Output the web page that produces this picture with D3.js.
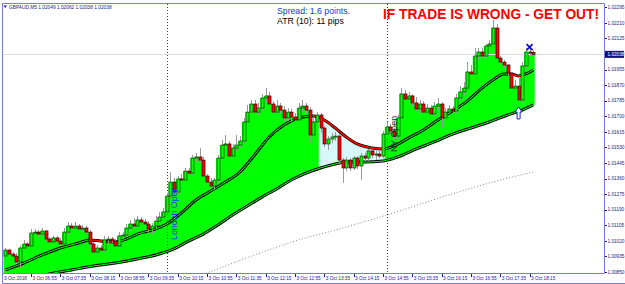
<!DOCTYPE html>
<html>
<head>
<meta charset="utf-8">
<script src="https://cdn.jsdelivr.net/npm/d3@7"></script>
<style>
  body { margin: 0; background: #fff; }
  svg { display: block; }
</style>
</head>
<body>
<div id="chart"></div>
<script>
// GBPAUD M5, 3 Oct 2018, first bar 06:20
const symbol = 'GBPAUD,M5';
const barStart = new Date(2018, 9, 3, 6, 20);

const opens = [
  1.00937, 1.00970, 1.00948, 1.00937, 1.00905, 1.00981, 1.01003, 1.00992, 1.01063, 1.01068,
  1.01057, 1.01074, 1.01030, 1.01014, 1.01036, 1.01019, 1.01003, 1.01068, 1.01101, 1.01090,
  1.01101, 1.01085, 1.01090, 1.01068, 1.01003, 1.00959, 1.00981, 1.00970, 1.01025, 1.01030,
  1.01019, 1.00992, 1.01047, 1.01052, 1.01090, 1.01112, 1.01101, 1.01134, 1.01123, 1.01112,
  1.01085, 1.01101, 1.01128, 1.01150, 1.01178, 1.01265, 1.01341, 1.01287, 1.01358, 1.01352,
  1.01401, 1.01390, 1.01472, 1.01478, 1.01461, 1.01374, 1.01341, 1.01319, 1.01352, 1.01472,
  1.01543, 1.01549, 1.01483, 1.01527, 1.01543, 1.01565, 1.01669, 1.01723, 1.01767, 1.01723,
  1.01745, 1.01800, 1.01811, 1.01767, 1.01723, 1.01756, 1.01734, 1.01691, 1.01723, 1.01696,
  1.01680, 1.01745, 1.01756, 1.01734, 1.01598, 1.01669, 1.01707, 1.01636, 1.01549, 1.01576,
  1.01587, 1.01592, 1.01461, 1.01418, 1.01461, 1.01418, 1.01472, 1.01429, 1.01483, 1.01472,
  1.01511, 1.01489, 1.01494, 1.01483, 1.01603, 1.01642, 1.01620, 1.01592, 1.01691, 1.01822,
  1.01794, 1.01811, 1.01773, 1.01740, 1.01767, 1.01723, 1.01745, 1.01713, 1.01756, 1.01767,
  1.01691, 1.01723, 1.01740, 1.01729, 1.01800, 1.01833, 1.01854, 1.01942, 1.01931, 1.02029,
  1.02051, 1.02029, 1.02084, 1.02095, 1.02182, 1.02018, 1.01996, 1.01980, 1.01936, 1.01854,
  1.01865, 1.01789, 1.01975, 1.02051, 1.02049
];
const highs = [
  1.00981, 1.00976, 1.00959, 1.00954, 1.00997, 1.01025, 1.01014, 1.01085, 1.01085, 1.01079,
  1.01090, 1.01079, 1.01041, 1.01047, 1.01047, 1.01036, 1.01090, 1.01123, 1.01117, 1.01123,
  1.01112, 1.01107, 1.01101, 1.01079, 1.01014, 1.00997, 1.00997, 1.01047, 1.01047, 1.01041,
  1.01030, 1.01068, 1.01068, 1.01112, 1.01134, 1.01145, 1.01156, 1.01150, 1.01139, 1.01128,
  1.01117, 1.01156, 1.01178, 1.01199, 1.01281, 1.01396, 1.01363, 1.01374, 1.01385, 1.01418,
  1.01418, 1.01489, 1.01500, 1.01527, 1.01478, 1.01385, 1.01363, 1.01363, 1.01489, 1.01571,
  1.01598, 1.01565, 1.01549, 1.01598, 1.01592, 1.01691, 1.01762, 1.01789, 1.01789, 1.01773,
  1.01822, 1.01854, 1.01833, 1.01783, 1.01789, 1.01773, 1.01756, 1.01745, 1.01740, 1.01718,
  1.01773, 1.01789, 1.01773, 1.01751, 1.01696, 1.01723, 1.01718, 1.01647, 1.01592, 1.01609,
  1.01614, 1.01603, 1.01472, 1.01478, 1.01472, 1.01483, 1.01483, 1.01500, 1.01500, 1.01521,
  1.01521, 1.01511, 1.01511, 1.01620, 1.01669, 1.01658, 1.01636, 1.01707, 1.01854, 1.01844,
  1.01833, 1.01822, 1.01805, 1.01789, 1.01783, 1.01767, 1.01762, 1.01778, 1.01800, 1.01778,
  1.01745, 1.01762, 1.01756, 1.01822, 1.01865, 1.01887, 1.01996, 1.01980, 1.02073, 1.02073,
  1.02073, 1.02095, 1.02116, 1.02226, 1.02204, 1.02029, 1.02007, 1.01985, 1.01942, 1.01898,
  1.01909, 1.01996, 1.02073, 1.02084, 1.02062
];
const lows = [
  1.00926, 1.00932, 1.00926, 1.00894, 1.00877, 1.00976, 1.00970, 1.00981, 1.01047, 1.01041,
  1.01047, 1.01019, 1.00992, 1.00997, 1.01008, 1.00992, 1.00997, 1.01057, 1.01074, 1.01079,
  1.01068, 1.01068, 1.01057, 1.00981, 1.00932, 1.00932, 1.00943, 1.00959, 1.01008, 1.01008,
  1.00970, 1.00986, 1.01030, 1.01041, 1.01079, 1.01090, 1.01090, 1.01101, 1.01090, 1.01063,
  1.01057, 1.01090, 1.01117, 1.01139, 1.01167, 1.01254, 1.01276, 1.01276, 1.01319, 1.01341,
  1.01374, 1.01380, 1.01450, 1.01445, 1.01363, 1.01325, 1.01309, 1.01298, 1.01341, 1.01461,
  1.01527, 1.01472, 1.01472, 1.01511, 1.01532, 1.01554, 1.01652, 1.01702, 1.01707, 1.01707,
  1.01734, 1.01778, 1.01756, 1.01713, 1.01713, 1.01718, 1.01674, 1.01674, 1.01669, 1.01642,
  1.01669, 1.01723, 1.01713, 1.01554, 1.01587, 1.01652, 1.01609, 1.01532, 1.01516, 1.01554,
  1.01565, 1.01445, 1.01336, 1.01401, 1.01401, 1.01407, 1.01412, 1.01352, 1.01456, 1.01456,
  1.01472, 1.01461, 1.01472, 1.01472, 1.01587, 1.01603, 1.01571, 1.01571, 1.01680, 1.01783,
  1.01751, 1.01756, 1.01729, 1.01718, 1.01707, 1.01696, 1.01691, 1.01702, 1.01734, 1.01636,
  1.01674, 1.01713, 1.01707, 1.01718, 1.01789, 1.01816, 1.01844, 1.01920, 1.01920, 1.02007,
  1.02018, 1.02018, 1.02062, 1.02078, 1.02007, 1.01985, 1.01964, 1.01920, 1.01833, 1.01800,
  1.01767, 1.01778, 1.01964, 1.02029, 1.02038
];
const closes = [
  1.00970, 1.00948, 1.00937, 1.00905, 1.00981, 1.01003, 1.00992, 1.01063, 1.01068, 1.01057,
  1.01074, 1.01030, 1.01014, 1.01036, 1.01019, 1.01003, 1.01068, 1.01101, 1.01090, 1.01101,
  1.01085, 1.01090, 1.01068, 1.01003, 1.00959, 1.00981, 1.00970, 1.01025, 1.01030, 1.01019,
  1.00992, 1.01047, 1.01052, 1.01090, 1.01112, 1.01101, 1.01134, 1.01123, 1.01112, 1.01085,
  1.01101, 1.01128, 1.01150, 1.01178, 1.01265, 1.01341, 1.01287, 1.01358, 1.01352, 1.01401,
  1.01390, 1.01472, 1.01478, 1.01461, 1.01374, 1.01341, 1.01319, 1.01352, 1.01472, 1.01543,
  1.01549, 1.01483, 1.01527, 1.01543, 1.01565, 1.01669, 1.01723, 1.01767, 1.01723, 1.01745,
  1.01800, 1.01811, 1.01767, 1.01723, 1.01756, 1.01734, 1.01691, 1.01723, 1.01696, 1.01680,
  1.01745, 1.01756, 1.01734, 1.01598, 1.01669, 1.01707, 1.01636, 1.01549, 1.01576, 1.01587,
  1.01592, 1.01461, 1.01418, 1.01461, 1.01418, 1.01472, 1.01429, 1.01483, 1.01472, 1.01511,
  1.01489, 1.01494, 1.01483, 1.01603, 1.01642, 1.01620, 1.01592, 1.01691, 1.01822, 1.01794,
  1.01811, 1.01773, 1.01740, 1.01767, 1.01723, 1.01745, 1.01713, 1.01756, 1.01767, 1.01691,
  1.01723, 1.01740, 1.01729, 1.01800, 1.01833, 1.01854, 1.01942, 1.01931, 1.02029, 1.02051,
  1.02029, 1.02084, 1.02095, 1.02182, 1.02018, 1.01996, 1.01980, 1.01936, 1.01854, 1.01865,
  1.01789, 1.01975, 1.02051, 1.02049, 1.02038
];

// moving averages at these bars
const fastBars = [0, 5, 10, 15, 20, 23, 26, 30, 33, 36, 40, 44, 48, 52, 56, 60, 64, 68, 72, 76,
  80, 84, 87, 90, 93, 96, 100, 103, 106, 110, 114, 118, 122, 126, 130, 133, 136, 138, 140, 142, 144];
const fastMA = [1.00861, 1.00899, 1.00943, 1.00981, 1.01008, 1.01025, 1.01019, 1.01014, 1.01030, 1.01057,
  1.01079, 1.01112, 1.01172, 1.01243, 1.01292, 1.01341, 1.01396, 1.01489, 1.01587, 1.01652,
  1.01691, 1.01702, 1.01680, 1.01636, 1.01587, 1.01549, 1.01527, 1.01521, 1.01538, 1.01582,
  1.01625, 1.01680, 1.01729, 1.01783, 1.01854, 1.01898, 1.01931, 1.01931, 1.01920, 1.01931, 1.01953];
const fastFalling = [[23, 30], [84, 103], [137, 141]];

const slowBars = [0, 6, 12, 18, 24, 30, 36, 42, 46, 50, 54, 58, 62, 66, 70, 74, 78, 82, 86, 90,
  94, 98, 103, 107, 112, 117, 122, 127, 132, 137, 141, 144];
const slowMA = [1.00752, 1.00795, 1.00839, 1.00861, 1.00883, 1.00899, 1.00921, 1.00948, 1.00976, 1.01019,
  1.01057, 1.01107, 1.01161, 1.01210, 1.01259, 1.01303, 1.01352, 1.01390, 1.01418, 1.01440,
  1.01450, 1.01450, 1.01456, 1.01478, 1.01521, 1.01560, 1.01603, 1.01636, 1.01669, 1.01707, 1.01734, 1.01762];

const longBars = [50, 55, 65, 80, 90, 105, 120, 135, 144];
const longMA = [1.00812, 1.00845, 1.00921, 1.01025, 1.01079, 1.01167, 1.01265, 1.01352, 1.01396];

const cyanZone = [86, 103];

const priceTicks = [1.02295, 1.02210, 1.02125, 1.02040, 1.01955, 1.01870, 1.01785, 1.01700, 1.01615,
  1.01530, 1.01445, 1.01360, 1.01275, 1.01190, 1.01105, 1.01020, 1.00935, 1.00850];
const timeTicks = ['06:15', '06:55', '07:35', '08:15', '08:55', '09:35', '10:15', '10:55', '11:35', '12:15',
  '12:55', '13:35', '14:15', '14:55', '15:35', '16:15', '16:55', '17:35', '18:15'];
const sessions = [
  {time: '10:00', label: 'London Open', color: '#2233dd', textColor: '#1f3be8', base: 240},
  {time: '15:00', label: 'NY Open', color: '#333333', textColor: '#202020', base: 152}
];

const exitMark = {bar: 143, price: 1.02078};
const entryArrow = {bar: 140, price: 1.01751};
const bid = 1.02038;

const W = 625, H = 284;
const plot = {left: 3, right: 604, top: 4, bottom: 273};
const frameColor = '#7a7ae6';
const axisText = '#1c1c80';

const svg = d3.select('#chart').append('svg')
    .attr('width', W).attr('height', H)
    .style('font-family', '"Liberation Sans", Arial, sans-serif');

svg.append('rect').attr('width', W).attr('height', H).attr('fill', '#fff');

const barTime = i => d3.timeMinute.offset(barStart, 5 * i);
const atTime = s => { let p = s.split(':'); return new Date(2018, 9, 3, +p[0], +p[1]); };

let x = d3.scaleTime()
    .domain([new Date(2018, 9, 3, 6, 16, 48), new Date(2018, 9, 3, 19, 56, 30)])
    .range([plot.left, plot.right]);
let y = d3.scaleLinear().domain([1.00850, 1.02295]).range([272, 7.3]);
let bw = x(barTime(1)) - x(barTime(0));
let last = opens.length - 1;

let bars = opens.map((o, i) => ({i: i, o: o, h: highs[i], l: lows[i], c: closes[i]}));

let defs = svg.append('defs');
defs.append('clipPath').attr('id', 'plotClip').append('rect')
    .attr('x', plot.left).attr('y', plot.top)
    .attr('width', plot.right - plot.left).attr('height', plot.bottom - plot.top);
defs.append('clipPath').attr('id', 'cyanClip').append('rect')
    .attr('x', x(barTime(cyanZone[0])) - bw / 2).attr('y', plot.top)
    .attr('width', x(barTime(cyanZone[1])) - x(barTime(cyanZone[0])) + bw)
    .attr('height', plot.bottom - plot.top);
defs.append('clipPath').attr('id', 'redClip')
    .selectAll('rect').data(fastFalling).enter().append('rect')
    .attr('x', d => x(barTime(d[0])))
    .attr('width', d => x(barTime(d[1])) - x(barTime(d[0])))
    .attr('y', plot.top).attr('height', plot.bottom - plot.top);

let fastPts = fastBars.map((b, k) => ({b: b, v: fastMA[k]}));
let slowPts = slowBars.map((b, k) => ({b: b, v: slowMA[k]}));
let longPts = longBars.map((b, k) => ({b: b, v: longMA[k]}));

let maLine = d3.line().x(d => x(barTime(d.b))).y(d => y(d.v)).curve(d3.curveMonotoneX);

let P = svg.append('g').attr('clip-path', 'url(#plotClip)');

// cyan band under the falling fast MA
P.append('path')
    .attr('clip-path', 'url(#cyanClip)')
    .attr('d', d3.area().x(d => x(barTime(d.b))).y0(plot.bottom).y1(d => y(d.v)).curve(d3.curveMonotoneX)(fastPts))
    .attr('fill', '#d6f8f8');

// green histogram up to the body tops
let steps = [];
bars.forEach(d => {
    let inZone = d.i >= cyanZone[0] && d.i <= cyanZone[1];
    let top = inZone ? null : Math.max(d.o, d.c);
    let cx = x(barTime(d.i));
    steps.push({x: cx - bw / 2, v: top});
    steps.push({x: d.i === last ? cx + 1.5 : cx + bw / 2, v: top});
});
P.append('path')
    .attr('d', d3.area().defined(d => d.v !== null).x(d => d.x).y0(plot.bottom).y1(d => y(d.v))(steps))
    .attr('fill', '#00ff00');

// nothing is filled below the slow MA
P.append('path')
    .attr('d', d3.area().x(d => x(barTime(d.b))).y0(plot.bottom + 20).y1(d => y(d.v)).curve(d3.curveMonotoneX)(slowPts))
    .attr('fill', '#fff');
P.append('rect')
    .attr('x', x(barTime(last)) - 0.5).attr('y', y(slowMA[slowMA.length - 1]))
    .attr('width', 6).attr('height', plot.bottom - y(slowMA[slowMA.length - 1]))
    .attr('fill', '#fff');

P.append('path').attr('d', maLine(longPts))
    .attr('fill', 'none').attr('stroke', '#8c8c8c').attr('stroke-width', 1).attr('stroke-dasharray', '1,2');

// bid line
P.append('line')
    .attr('x1', plot.left).attr('x2', plot.right)
    .attr('y1', Math.round(y(bid)) + 0.5).attr('y2', Math.round(y(bid)) + 0.5)
    .attr('stroke', '#dedede');

// session lines
P.selectAll('.session').data(sessions).enter().append('line')
    .attr('x1', d => Math.round(x(atTime(d.time))) + 0.5)
    .attr('x2', d => Math.round(x(atTime(d.time))) + 0.5)
    .attr('y1', plot.top).attr('y2', plot.bottom)
    .attr('stroke', d => d.color).attr('stroke-dasharray', '1,2');

function drawMA(pts, red) {
    P.append('path').attr('d', maLine(pts))
        .attr('fill', 'none').attr('stroke', '#000').attr('stroke-width', 3);
    P.append('path').attr('d', maLine(pts))
        .attr('fill', 'none').attr('stroke', '#00ff00').attr('stroke-width', 1);
    if (red) {
        P.append('path').attr('d', maLine(pts))
            .attr('clip-path', 'url(#redClip)')
            .attr('fill', 'none').attr('stroke', '#ff0000').attr('stroke-width', 1.6);
    }
}
drawMA(slowPts, false);
drawMA(fastPts, true);

// candles
let candles = P.append('g');
candles.selectAll('.wick').data(bars).enter().append('line')
    .attr('x1', d => Math.round(x(barTime(d.i))) + 0.5)
    .attr('x2', d => Math.round(x(barTime(d.i))) + 0.5)
    .attr('y1', d => y(d.h)).attr('y2', d => y(d.l))
    .attr('stroke', '#9a9a9a').attr('stroke-width', 1);
candles.selectAll('.body').data(bars).enter().append('rect')
    .attr('x', d => Math.round(x(barTime(d.i))) - 1)
    .attr('width', 3)
    .attr('y', d => y(Math.max(d.o, d.c)))
    .attr('height', d => Math.max(1, Math.abs(y(d.o) - y(d.c))))
    .attr('fill', d => d.c >= d.o ? '#00ff00' : '#ff0000')
    .attr('stroke', d => d.c >= d.o ? '#0b3b0b' : '#3a0000')
    .attr('stroke-width', 0.7);

// exit cross and entry arrow
let ex = x(barTime(exitMark.bar)), ey = y(exitMark.price);
P.append('path')
    .attr('d', `M${ex - 3},${ey - 3}L${ex + 3},${ey + 3}M${ex + 3},${ey - 3}L${ex - 3},${ey + 3}`)
    .attr('stroke', '#1010cc').attr('stroke-width', 1.8);
let ax = x(barTime(entryArrow.bar)), ay = y(entryArrow.price);
P.append('path')
    .attr('d', `M${ax},${ay}L${ax + 3.5},${ay + 5}L${ax + 1.5},${ay + 5}L${ax + 1.5},${ay + 12}L${ax - 1.5},${ay + 12}L${ax - 1.5},${ay + 5}L${ax - 3.5},${ay + 5}Z`)
    .attr('fill', '#fff').attr('stroke', '#2020cc').attr('stroke-width', 1);

// session labels
svg.selectAll('.sessLabel').data(sessions).enter().append('text')
    .attr('transform', d => 'translate(' + (Math.round(x(atTime(d.time))) + 9.5) + ',' + d.base + ') rotate(-90)')
    .attr('font-size', 8.8)
    .attr('fill', d => d.textColor)
    .text(d => d.label);

// info texts
svg.append('text').attr('x', 277).attr('y', 14.3).attr('font-size', 8.7).attr('fill', '#1236f0')
    .text('Spread: 1.6 points.');
svg.append('text').attr('x', 277).attr('y', 23.8).attr('font-size', 8.7).attr('fill', '#000')
    .text('ATR (10): 11 pips');
svg.append('text').attr('x', 383).attr('y', 19.3).attr('font-size', 14).attr('font-weight', 'bold')
    .attr('fill', '#ff0000').attr('textLength', 216).attr('lengthAdjust', 'spacingAndGlyphs')
    .text('IF TRADE IS WRONG - GET OUT!');

// header line
svg.append('path').attr('d', 'M3.5,5.5L7,5.5L5.25,8Z').attr('fill', axisText);
svg.append('text').attr('x', 9).attr('y', 8.6).attr('font-size', 4.8).attr('fill', axisText)
    .text(symbol + '  ' + [opens[last], highs[last], lows[last], closes[last]].map(v => v.toFixed(5)).join(' '));

// frame
let frame = svg.append('g').attr('stroke', frameColor).attr('fill', 'none');
frame.append('line').attr('x1', 2.5).attr('x2', 2.5).attr('y1', 3).attr('y2', 283.5);
frame.append('line').attr('x1', 2.5).attr('x2', plot.right + 0.5).attr('y1', 3.5).attr('y2', 3.5);
frame.append('line').attr('x1', plot.right + 0.5).attr('x2', plot.right + 0.5).attr('y1', 3.5).attr('y2', plot.bottom + 0.5);
frame.append('line').attr('x1', 2.5).attr('x2', plot.right + 0.5).attr('y1', plot.bottom + 0.5).attr('y2', plot.bottom + 0.5);
frame.append('line').attr('x1', 2.5).attr('x2', W).attr('y1', 283.5).attr('y2', 283.5);

// price scale
let pa = svg.append('g');
pa.selectAll('line').data(priceTicks).enter().append('line')
    .attr('x1', plot.right + 1).attr('x2', plot.right + 3)
    .attr('y1', d => Math.round(y(d)) + 0.5).attr('y2', d => Math.round(y(d)) + 0.5)
    .attr('stroke', axisText);
pa.selectAll('text').data(priceTicks).enter().append('text')
    .attr('x', plot.right + 3.5).attr('y', d => y(d) + 1.7)
    .attr('font-size', 4.7).attr('fill', axisText)
    .text(d => d.toFixed(5));
pa.append('rect').attr('x', plot.right + 1).attr('y', y(bid) - 3.5).attr('width', 19).attr('height', 7)
    .attr('fill', '#12127a');
pa.append('text').attr('x', plot.right + 3.5).attr('y', y(bid) + 1.7)
    .attr('font-size', 4.7).attr('fill', '#fff').text(bid.toFixed(5));

// time scale
let ta = svg.append('g');
ta.selectAll('line').data(timeTicks.slice(1)).enter().append('line')
    .attr('x1', d => Math.round(x(atTime(d))) + 0.5).attr('x2', d => Math.round(x(atTime(d))) + 0.5)
    .attr('y1', plot.bottom + 1).attr('y2', plot.bottom + 4)
    .attr('stroke', axisText);
ta.selectAll('text').data(timeTicks).enter().append('text')
    .attr('x', d => Math.max(plot.left + 1, x(atTime(d)) + 1.5)).attr('y', 279.8)
    .attr('font-size', 4.7).attr('fill', axisText)
    .text((d, k) => k === 0 ? '3 Oct 2018' : '3 Oct ' + d);
</script>
</body>
</html>
